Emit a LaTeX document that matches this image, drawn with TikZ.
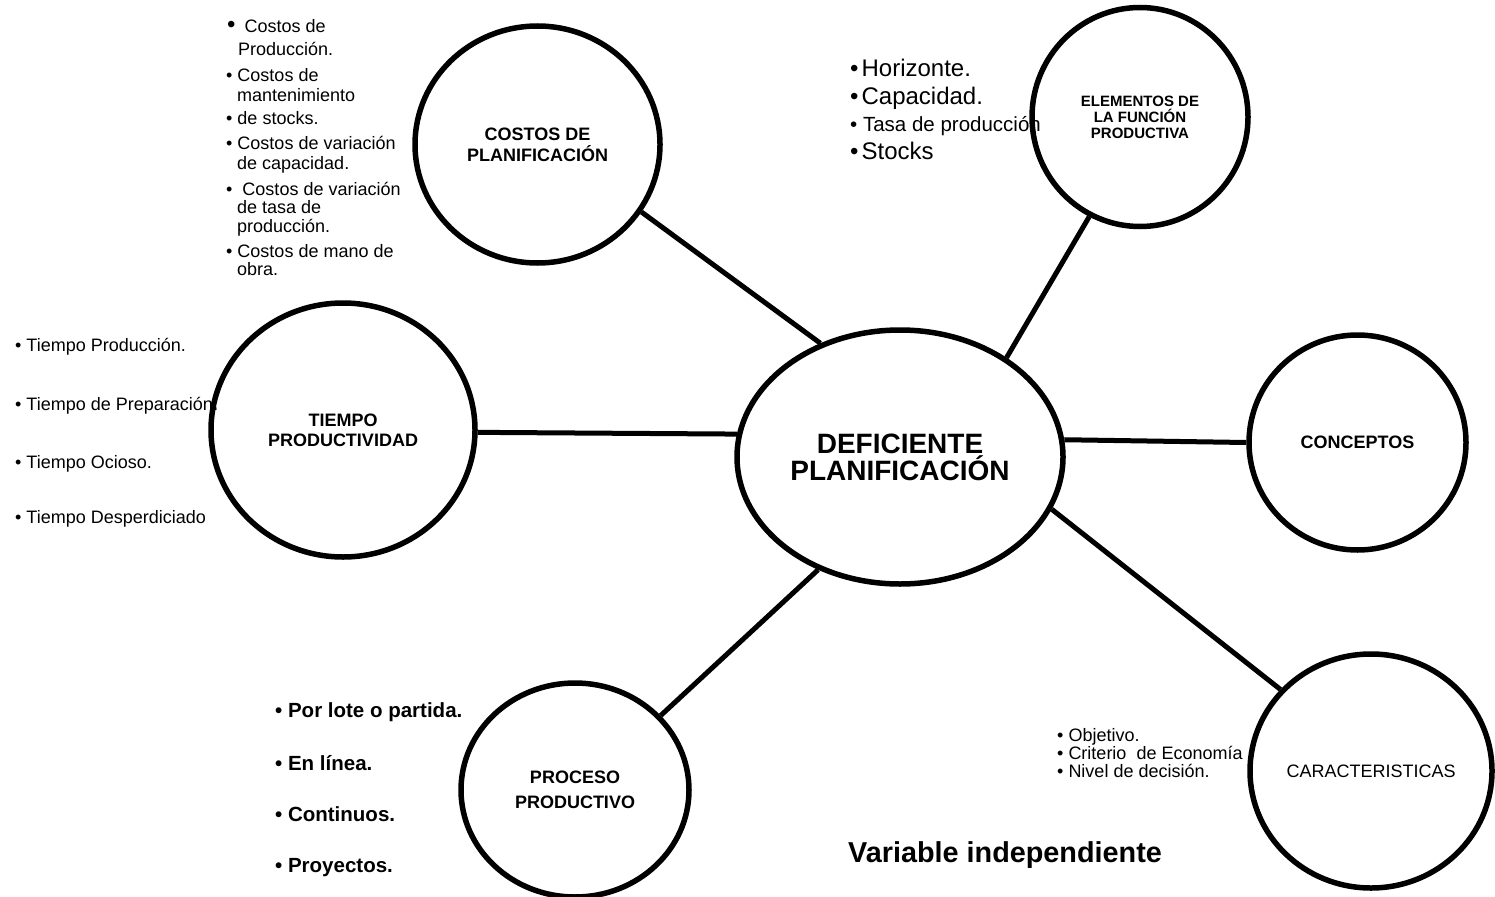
\documentclass[tikz,border=0pt]{standalone}
\usepackage{fontspec}
\setmainfont{Liberation Sans}
\usetikzlibrary{shapes.geometric}
\newcommand{\fs}[2]{\fontsize{#1}{#2}\selectfont}
\tikzset{
  bub/.style={ellipse, draw, line width=5.5pt, inner sep=0pt, align=center,
              font=\bfseries\fs{18}{21}},
  link/.style={line width=5pt},
  item/.style={anchor=base west, inner sep=0pt, font=\fs{18}{18}},
  bigitem/.style={item, font=\fs{24}{24}},
  bolditem/.style={item, font=\bfseries\fs{20.5}{20.5}}
}
\begin{document}
\begin{tikzpicture}[x=1pt,y=-1pt]
\useasboundingbox (0,0) rectangle (1495,896);

% bubbles
\node[bub, minimum width=326pt, minimum height=254pt, font=\bfseries\fs{28}{27}]
  (def) at (900,457) {DEFICIENTE\\PLANIFICACIÓN};
\node[bub, minimum width=245pt, minimum height=237pt] (costos) at (537.5,144.5)
  {COSTOS DE\\PLANIFICACIÓN};
\node[bub, minimum width=216pt, minimum height=219pt, font=\bfseries\fs{15}{16}]
  (elem) at (1140,117) {ELEMENTOS DE\\LA FUNCIÓN\\PRODUCTIVA};
\node[bub, minimum width=264pt, minimum height=254pt, font=\bfseries\fs{18}{20}]
  (tiempo) at (343,430) {TIEMPO\\PRODUCTIVIDAD};
\node[bub, minimum width=217pt, minimum height=215pt] (conc) at (1357.5,442.5)
  {CONCEPTOS};
\node[bub, minimum width=242pt, minimum height=234pt, font=\fs{18}{20}]
  (car) at (1371,771) {CARACTERISTICAS};
\node[bub, minimum width=228pt, minimum height=214pt, font=\bfseries\fs{18}{25}]
  (proc) at (575,790) {PROCESO\\PRODUCTIVO};

% spokes
\draw[link] (costos.-33.7) -- (def.125.4);
\draw[link] (elem.-117.9) -- (def.43.2);
\draw[link] (tiempo.-1.3) -- (def.172.6);
\draw[link] (def.6.6) -- (conc.180);
\draw[link] (def.-19.2) -- (car.138.8);
\draw[link] (def.-126.7) -- (proc.41.9);

% planning costs
\node[item] (cp1) at (227,33) {{\fs{24}{24}•}\hspace{9pt}Costos de};
\node[item] (cp1b) at (238,56) {Producción.};
\node[item] (cp2) at (226,82) {• Costos de};
\node[item] (cp2b) at (237,102) {mantenimiento};
\node[item] (cp3) at (226,125) {• de stocks.};
\node[item] (cp4) at (226,150) {• Costos de variación};
\node[item] (cp4b) at (237,170) {de capacidad.};
\node[item] (cp5) at (226,195) {•\hspace{10pt}Costos de variación};
\node[item] (cp5b) at (237,213) {de tasa de};
\node[item] (cp5c) at (237,232) {producción.};
\node[item] (cp6) at (226,257) {• Costos de mano de};
\node[item] (cp6b) at (237,275) {obra.};

% elements of the productive function
\node[bigitem] (ef1) at (850,77) {•\hspace{3pt}Horizonte.};
\node[bigitem] (ef2) at (850,105) {•\hspace{3pt}Capacidad.};
\node[item, font=\fs{20.5}{20.5}] (ef3) at (850,132) {• Tasa de producción};
\node[bigitem] (ef4) at (850,160) {•\hspace{3pt}Stocks};

% time
\node[item] (tp1) at (15,351) {• Tiempo Producción.};
\node[item] (tp2) at (15,410) {• Tiempo de Preparación\textbf{.}};
\node[item] (tp3) at (15,468) {• Tiempo Ocioso.};
\node[item] (tp4) at (15,523) {• Tiempo Desperdiciado};

% production process
\node[bolditem] (pp1) at (275,717) {• Por lote o partida.};
\node[bolditem] (pp2) at (275,770) {• En línea.};
\node[bolditem] (pp3) at (275,821) {• Continuos.};
\node[bolditem] (pp4) at (275,872) {• Proyectos.};

% characteristics
\node[item] (ch1) at (1057,741) {• Objetivo.};
\node[item] (ch2) at (1057,759) {• Criterio \ de Economía};
\node[item] (ch3) at (1057,777) {• Nivel de decisión.};

% caption
\node[item, font=\bfseries\fs{28.8}{28.8}] (cap) at (848,862) {Variable independiente};
\end{tikzpicture}
\end{document}
